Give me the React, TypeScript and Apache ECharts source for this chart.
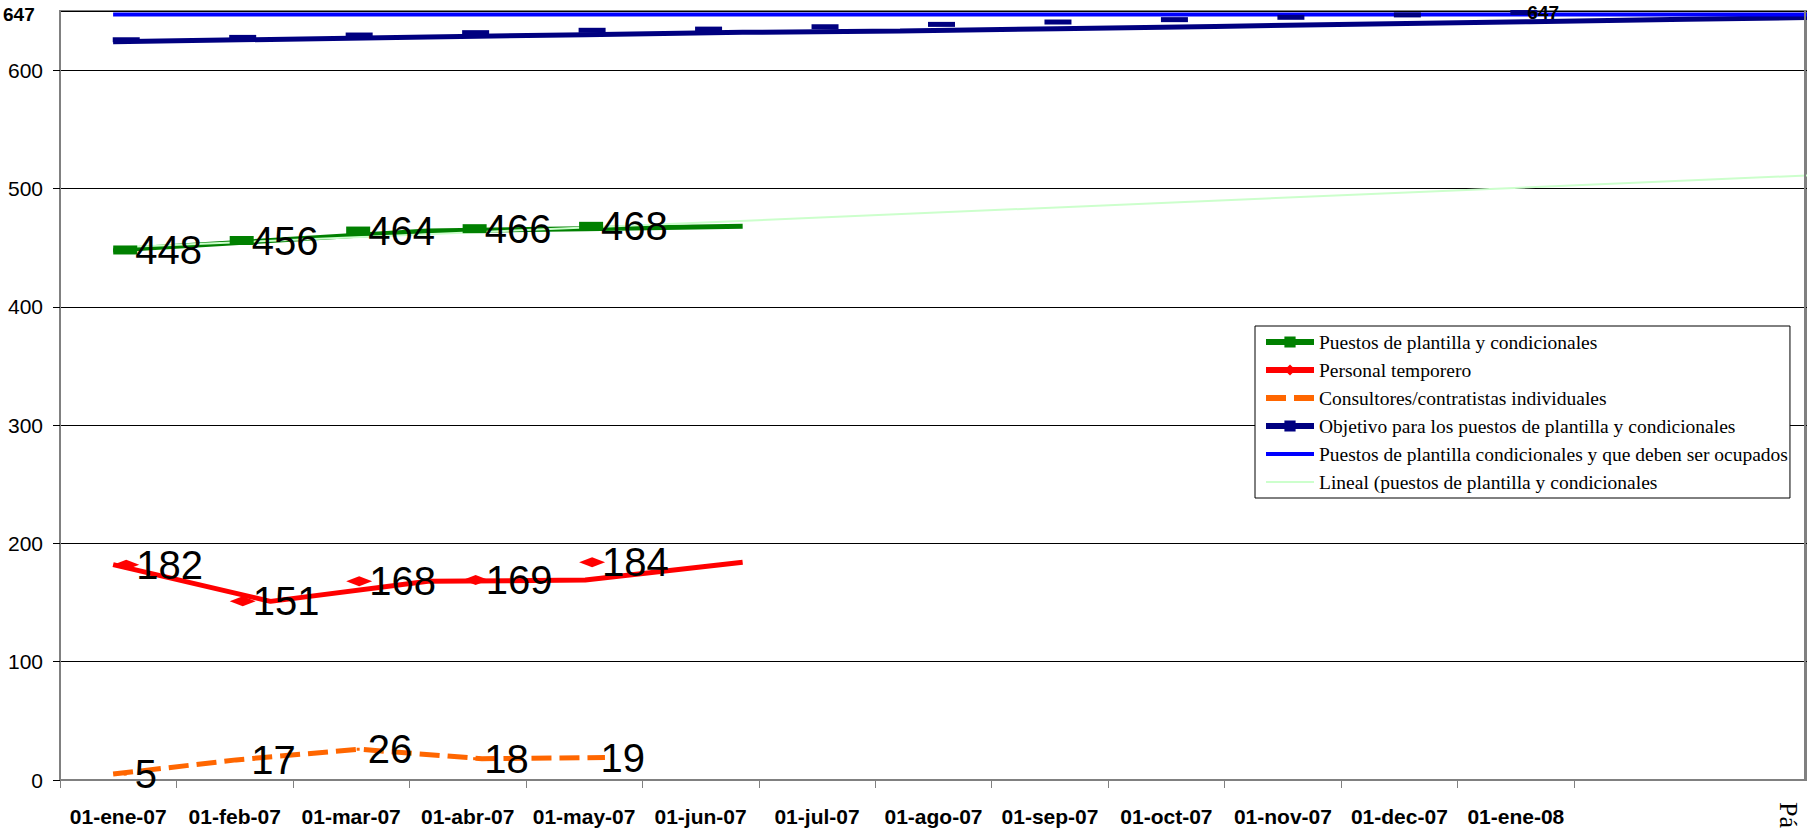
import React, { useEffect, useRef } from 'react';
import * as echarts from 'echarts';

// Category labels (x axis): monthly dates; the last two slots have no label.
const months = [
  '01-ene-07', '01-feb-07', '01-mar-07', '01-abr-07', '01-may-07', '01-jun-07',
  '01-jul-07', '01-ago-07', '01-sep-07', '01-oct-07', '01-nov-07', '01-dec-07',
  '01-ene-08', '', '',
];

// Series values
const puestos = [448, 456, 464, 466, 468];
const temporero = [182, 151, 168, 169, 184];
const consultores = [5, 17, 26, 18, 19];
const objetivo = [624, 626, 628, 630, 632, 633, 635, 637, 639, 641, 643, 645, 647];
const ocupados = [647, 647, 647, 647, 647, 647, 647, 647, 647, 647, 647, 647, 647];
// Trend line (two end points, at point index 0 and 12)
const linealIndex = [0, 12];
const linealValues = [450, 518];

const seriesNames = [
  'Puestos de plantilla y condicionales',
  'Personal temporero',
  'Consultores/contratistas individuales',
  'Objetivo para los puestos de plantilla y condicionales',
  'Puestos de plantilla condicionales y que deben ser ocupados',
  'Lineal (puestos de plantilla y condicionales',
];

const GREEN = '#008000';
const RED = '#FF0000';
const ORANGE = '#FF6600';
const NAVY = '#000080';
const BLUE = '#0000FF';
const LIGHTGREEN = '#CCFFCC';

const SANS = "'Liberation Sans', Arial, sans-serif";
const SERIF = "'Liberation Serif', 'Times New Roman', serif";

export default function App() {
  const ref = useRef<HTMLDivElement>(null);

  useEffect(() => {
    if (!ref.current) return;
    const chart = echarts.init(ref.current, undefined, { renderer: 'svg' });

    const idx = (arr: number[]) => arr.map((v, i) => [i, v]);
    const dataLabel = {
      show: true,
      position: 'right',
      fontSize: 40,
      fontFamily: SANS,
      color: '#000',
      formatter: '{c}',
    };

    const lastObj = objetivo.length - 1;

    const legendWidths = [6, 6, 6, 6, 4, 2];
    const legendHasMarker = [true, true, false, true, false, false];

    const option: any = {
      animation: false,
      backgroundColor: '#ffffff',
      grid: {
        left: 60,
        right: -29,
        top: 11,
        bottom: 53,
        show: true,
        borderColor: '#808080',
        borderWidth: 2,
        backgroundColor: 'transparent',
      },
      legend: {
        orient: 'vertical',
        left: 1255,
        top: 326,
        padding: [6, 2, 6, 8],
        itemWidth: 48,
        itemHeight: 14,
        itemGap: 8,
        backgroundColor: '#ffffff',
        borderColor: '#000',
        borderWidth: 1,
        borderRadius: 0,
        data: seriesNames.map((n, i) => ({
          name: n,
          itemStyle: legendHasMarker[i] ? {} : { opacity: 0 },
          lineStyle: { width: legendWidths[i] },
        })),
        textStyle: { fontFamily: SERIF, fontSize: 19.5, color: '#000' },
      },
      xAxis: [
        {
          type: 'category',
          data: months,
          boundaryGap: true,
          axisLine: { show: true, onZero: false, lineStyle: { color: '#808080', width: 2 } },
          axisTick: {
            show: true,
            length: 8,
            interval: (i: number) => i <= 13,
            lineStyle: { color: '#808080', width: 1 },
          },
          axisLabel: {
            interval: 0,
            fontFamily: SANS,
            fontWeight: 'bold',
            fontSize: 21,
            color: '#000',
            margin: 26,
          },
          splitLine: { show: false },
        },
        { type: 'value', show: false, min: -0.3375, max: 10.7625 },
        { type: 'value', show: false, min: -0.432, max: 13.776 },
      ],
      yAxis: {
        type: 'value',
        min: 0,
        max: 650,
        interval: 100,
        axisLine: { show: true, onZero: false, lineStyle: { color: '#808080', width: 2 } },
        axisTick: { show: true, length: 7, lineStyle: { color: '#000' } },
        axisLabel: {
          fontFamily: SANS, fontSize: 21, color: '#000', margin: 17,
          showMaxLabel: false,
        },
        splitLine: { show: true, lineStyle: { color: '#000', width: 1 } },
      },
      series: [
        {
          name: seriesNames[0], type: 'line', xAxisIndex: 1, data: idx(puestos),
          symbol: 'rect', showSymbol: false, color: GREEN,
          lineStyle: { color: GREEN, width: 5 }, z: 3,
        },
        {
          name: seriesNames[1], type: 'line', xAxisIndex: 1, data: idx(temporero),
          symbol: 'diamond', showSymbol: false, color: RED,
          lineStyle: { color: RED, width: 5 }, z: 3,
        },
        {
          name: seriesNames[2], type: 'line', xAxisIndex: 2, data: idx(consultores),
          symbol: 'none', color: ORANGE,
          lineStyle: { color: ORANGE, width: 5, type: [20, 8] }, z: 3,
        },
        {
          name: seriesNames[3], type: 'line', xAxisIndex: 1, data: idx(objetivo),
          symbol: 'rect', showSymbol: false, color: NAVY,
          lineStyle: { color: NAVY, width: 5 }, z: 3,
        },
        {
          name: seriesNames[4], type: 'line', xAxisIndex: 1, data: idx(ocupados),
          symbol: 'none', color: BLUE,
          lineStyle: { color: BLUE, width: 4 }, z: 4,
        },
        {
          name: seriesNames[5], type: 'line', xAxisIndex: 1,
          data: linealIndex.map((x, i) => [x, linealValues[i]]),
          symbol: 'none', color: LIGHTGREEN,
          lineStyle: { color: LIGHTGREEN, width: 2 }, z: 4,
        },
        // markers + value labels at the category positions
        {
          name: seriesNames[0], type: 'scatter', xAxisIndex: 0, data: puestos,
          symbol: 'rect', symbolSize: [24, 9], symbolOffset: [7, 0],
          itemStyle: { color: GREEN, opacity: 1 }, z: 5,
          label: { ...dataLabel, distance: -2 },
        },
        {
          name: seriesNames[1], type: 'scatter', xAxisIndex: 0, data: temporero,
          symbol: 'diamond', symbolSize: [26, 10], symbolOffset: [8, 0],
          itemStyle: { color: RED, opacity: 1 }, z: 5,
          label: { ...dataLabel, distance: -3 },
        },
        {
          name: seriesNames[2], type: 'scatter', xAxisIndex: 0, data: consultores,
          symbol: 'rect', symbolSize: 3, symbolOffset: [7, 0],
          itemStyle: { color: ORANGE, opacity: 1 }, z: 5,
          label: { ...dataLabel, distance: 8 },
        },
        {
          name: seriesNames[3], type: 'scatter', xAxisIndex: 0,
          data: objetivo.map((v, i) =>
            i === lastObj
              ? {
                  value: v,
                  label: {
                    show: true, position: 'right', distance: -10, fontSize: 19,
                    fontWeight: 'bold', fontFamily: SANS, color: '#000', formatter: '{c}',
                  },
                }
              : v
          ),
          symbol: 'rect', symbolSize: [27, 5], symbolOffset: [8, -2],
          itemStyle: { color: NAVY, opacity: 1 }, z: 5,
          label: { show: false },
        },
      ],
      graphic: [
        {
          type: 'line',
          shape: { x1: 1805, y1: 11, x2: 1805, y2: 780 },
          style: { stroke: '#808080', lineWidth: 2 },
          z: 10,
        },
        {
          type: 'text',
          x: 3,
          y: 14,
          style: {
            text: String(ocupados[0]),
            font: `bold 19px ${SANS}`,
            fill: '#000',
            verticalAlign: 'middle',
          },
          z: 10,
        },
        {
          type: 'text',
          x: 1788,
          y: 802,
          rotation: -Math.PI / 2,
          style: {
            text: 'Pá',
            font: `26px ${SERIF}`,
            fill: '#000',
            align: 'left',
            verticalAlign: 'middle',
          },
          z: 10,
        },
      ],
    };

    chart.setOption(option);
    return () => chart.dispose();
  }, []);

  return (
    <div
      ref={ref}
      style={{ position: 'fixed', left: 0, top: 0, width: 1807, height: 833, background: '#fff' }}
    />
  );
}
